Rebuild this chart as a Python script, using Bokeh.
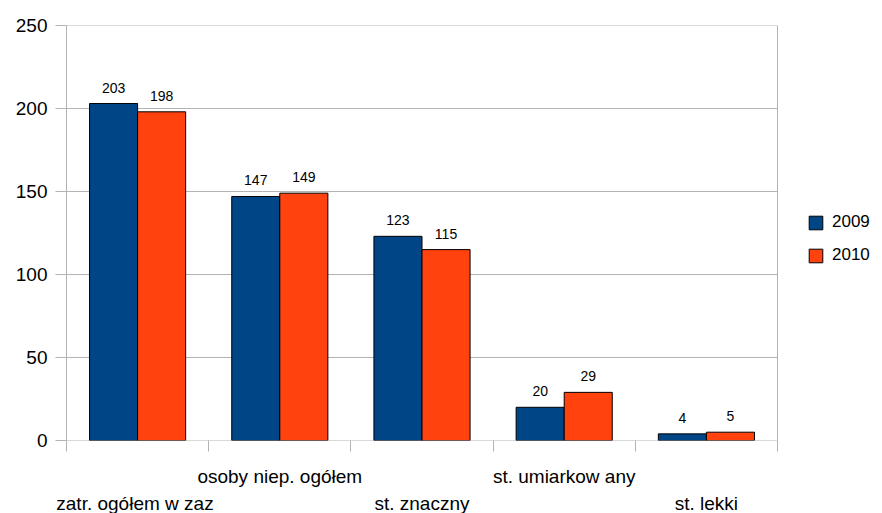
from bokeh.plotting import figure
from bokeh.models import (ColumnDataSource, FixedTicker, Legend, LegendItem, Range1d, LabelSet,
                          LinearAxis)
from bokeh.embed import file_html
from bokeh.resources import INLINE
from bokeh.core.properties import value

categories = ["zatr. ogółem w  zaz", "osoby niep. ogółem", "st. znaczny", "st. umiarkow any", "st. lekki"]
series_names = ["2009", "2010"]
values_2009 = [203, 147, 123, 20, 4]
values_2010 = [198, 149, 115, 29, 5]
y_ticks = [0, 50, 100, 150, 200, 250]
colors = ["#004586", "#ff420e"]

FONT = "Liberation Sans"
GRID = "#b3b3b3"
n = len(categories)

# the frame also holds the legend area to the right of the chart wall
cat_px = 711 / n
frame_w = 816
p = figure(frame_width=frame_w, frame_height=415, output_backend="svg", toolbar_location=None,
           x_range=Range1d(0, frame_w / cat_px), y_range=Range1d(0, 250),
           min_border_left=66, min_border_right=0, min_border_top=25, min_border_bottom=73)

# wall: grid lines, right edge and base line
p.segment(x0=[0] * len(y_ticks), x1=[n] * len(y_ticks), y0=y_ticks, y1=y_ticks,
          line_color=GRID, line_width=1)
p.segment(x0=[n], x1=[n], y0=[y_ticks[0]], y1=[y_ticks[-1]], line_color=GRID, line_width=1)

bar_w = 0.338
offsets = [-bar_w / 2, bar_w / 2]
renderers = []
for k, (vals, col) in enumerate(zip([values_2009, values_2010], colors)):
    xs = [i + 0.5 + offsets[k] for i in range(n)]
    src = ColumnDataSource(dict(x=xs, top=vals, lab=[str(v) for v in vals]))
    r = p.vbar(x="x", top="top", bottom=0, width=bar_w, source=src,
               fill_color=col, line_color="#000000", line_width=1)
    renderers.append(r)
    p.add_layout(LabelSet(x="x", y="top", text="lab", source=src, y_offset=11,
                          text_align="center", text_baseline="alphabetic",
                          text_font=value(FONT), text_font_size="14px", text_color="#000000"))

# y axis
p.yaxis.ticker = FixedTicker(ticks=y_ticks)
p.xgrid.visible = False
p.ygrid.visible = False
p.yaxis.axis_line_color = GRID
p.yaxis.major_tick_line_color = GRID
p.yaxis.major_tick_in = 0
p.yaxis.major_tick_out = 11
p.yaxis.minor_tick_line_color = None
p.yaxis.major_label_text_font = FONT
p.yaxis.major_label_text_font_size = "19px"
p.yaxis.major_label_text_color = "#000000"
p.yaxis.major_label_standoff = 8

# x axis: boundary ticks as minor ticks, upper-row category labels as major labels
upper = [i + 0.5 for i in range(n) if i % 2 == 1]
lower = [i + 0.5 for i in range(n) if i % 2 == 0]
xa = p.xaxis[0]
xa.ticker = FixedTicker(ticks=upper, minor_ticks=list(range(n + 1)))
xa.major_label_overrides = {i + 0.5: categories[i] for i in range(n) if i % 2 == 1}
xa.axis_line_color = None
xa.major_tick_line_color = None
xa.major_tick_in = 0
xa.major_tick_out = 0
xa.minor_tick_line_color = GRID
xa.minor_tick_in = 0
xa.minor_tick_out = 11
xa.major_label_standoff = 14
xa.major_label_text_font = FONT
xa.major_label_text_font_size = "19px"
xa.major_label_text_color = "#000000"

xb = LinearAxis(ticker=FixedTicker(ticks=lower, minor_ticks=[]),
                major_label_overrides={i + 0.5: categories[i] for i in range(n) if i % 2 == 0},
                axis_line_color=None, major_tick_line_color=None, minor_tick_line_color=None,
                major_tick_in=0, major_tick_out=0, major_label_standoff=3,
                major_label_text_font=FONT, major_label_text_font_size="19px",
                major_label_text_color="#000000")
p.add_layout(xb, "below")

p.outline_line_color = None
p.background_fill_color = "white"

legend = Legend(items=[LegendItem(label=s, renderers=[r]) for s, r in zip(series_names, renderers)],
                location=(741, 175), margin=0, padding=0, border_line_color=None,
                background_fill_alpha=0, glyph_width=17, glyph_height=17, label_height=17,
                spacing=13, label_standoff=8, label_text_font=FONT, label_text_font_size="17px",
                label_text_color="#000000")
p.add_layout(legend, "center")

open("out.html", "w").write(file_html(p, INLINE))
